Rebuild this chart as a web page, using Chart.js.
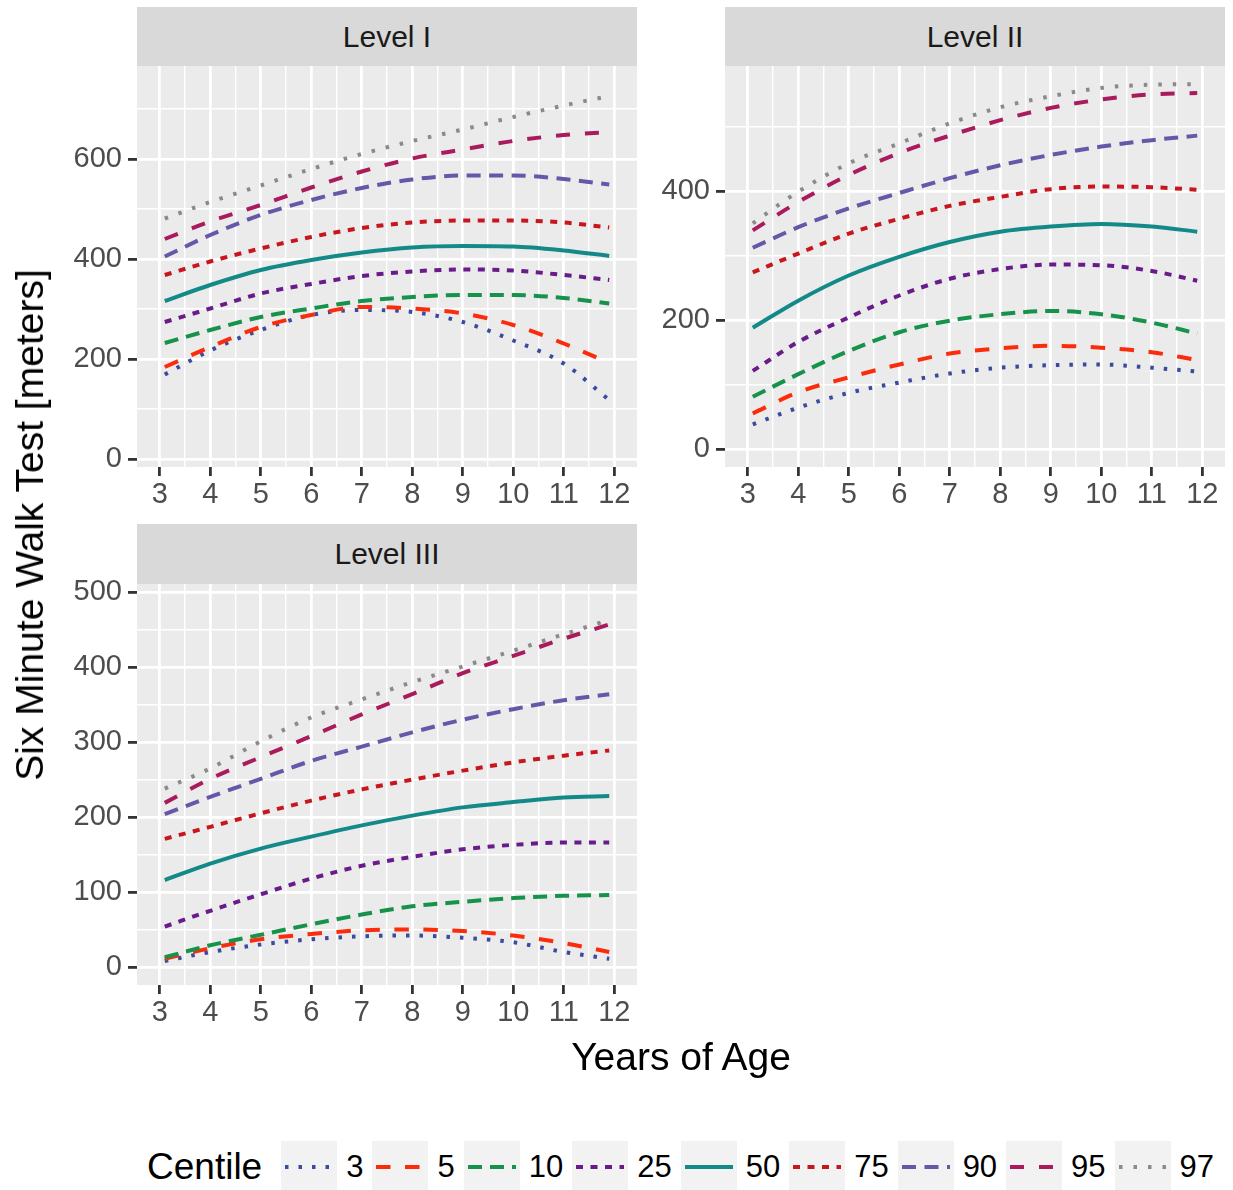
<!DOCTYPE html>
<html>
<head>
<meta charset="utf-8">
<script src="https://cdn.jsdelivr.net/npm/chart.js@4.4.1/dist/chart.umd.min.js"></script>
<style>
  body { margin: 0; background: #fff; width: 1233px; height: 1190px; position: relative; overflow: hidden;
         font-family: "Liberation Sans", Arial, sans-serif; }
  canvas { position: absolute; }
  .strip { position: absolute; background: #d9d9d9; color: #1a1a1a; font-size: 30px;
           display: flex; align-items: center; justify-content: center; }
  .title { position: absolute; font-size: 39px; color: #000; white-space: nowrap; }
  #legend { position: absolute; left: 147px; top: 1141px; height: 52px; display: flex; align-items: center; }
  #legend .lt { font-size: 37px; margin-right: 19px; }
  #legend .key { width: 56px; height: 52px; background: #f2f2f2; display: block; }
  #legend .lab { font-size: 31px; margin: 0 9px 0 9px; }
</style>
</head>
<body>
<div class="strip" style="left:137px;top:7px;width:500px;height:59px">Level I</div>
<div class="strip" style="left:725px;top:7px;width:500px;height:59px">Level II</div>
<div class="strip" style="left:137px;top:524px;width:500px;height:60px">Level III</div>
<canvas id="c1"></canvas>
<canvas id="c2"></canvas>
<canvas id="c3"></canvas>
<div class="title" style="left:30px;top:525px;transform:translate(-50%,-50%) rotate(-90deg)">Six Minute Walk Test [meters]</div>
<div class="title" style="left:681px;top:1057px;transform:translate(-50%,-50%)">Years of Age</div>
<div id="legend"><span class="lt">Centile</span></div>

<script>
const ages = [3.1, 4, 5, 6, 7, 8, 9, 10, 11, 11.9];
const centiles = ['3', '5', '10', '25', '50', '75', '90', '95', '97'];

// one row per centile (3, 5, 10, 25, 50, 75, 90, 95, 97)
const levelI = [
  [169, 217, 258, 288, 298, 294, 274, 237, 191, 118],
  [184, 224, 264, 288, 304, 301, 291, 268, 231, 192],
  [232, 258, 284, 301, 316, 324, 328, 328, 322, 311],
  [274, 301, 331, 350, 366, 375, 379, 377, 368, 358],
  [316, 348, 378, 398, 413, 423, 426, 425, 417, 406],
  [368, 395, 421, 444, 462, 473, 477, 477, 473, 463],
  [405, 448, 488, 518, 542, 559, 567, 567, 560, 549],
  [440, 475, 508, 543, 575, 601, 619, 636, 648, 654],
  [481, 514, 547, 580, 610, 636, 659, 684, 707, 726]
];
const levelII = [
  [38, 64, 87, 103, 117, 126, 130, 131, 126, 120],
  [55, 88, 111, 131, 148, 156, 160, 157, 150, 138],
  [81, 116, 152, 181, 199, 209, 214, 209, 196, 179],
  [121, 166, 204, 238, 264, 279, 286, 285, 276, 261],
  [188, 230, 269, 298, 321, 337, 345, 349, 345, 337],
  [274, 303, 334, 357, 377, 391, 403, 407, 406, 402],
  [312, 344, 373, 397, 420, 440, 456, 469, 479, 486],
  [339, 383, 425, 459, 486, 510, 529, 542, 550, 552],
  [350, 399, 443, 474, 505, 530, 547, 560, 565, 566]
];
const levelIII = [
  [8, 20, 30, 37, 41, 42, 39, 33, 20, 11],
  [11, 25, 37, 44, 49, 50, 48, 42, 32, 20],
  [13, 29, 43, 57, 70, 81, 87, 92, 95, 96],
  [54, 75, 97, 118, 135, 147, 157, 163, 166, 166],
  [116, 138, 158, 174, 189, 202, 213, 220, 226, 228],
  [171, 187, 205, 222, 237, 250, 262, 273, 282, 289],
  [204, 227, 251, 275, 294, 313, 330, 344, 356, 364],
  [219, 251, 280, 308, 337, 364, 392, 415, 438, 457],
  [238, 265, 301, 333, 357, 380, 401, 422, 444, 463]
];

const xMajor = [3, 4, 5, 6, 7, 8, 9, 10, 11, 12];
const xMinor = [3.5, 4.5, 5.5, 6.5, 7.5, 8.5, 9.5, 10.5, 11.5];
const yMajorI = [0, 200, 400, 600];
const yMinorI = [100, 300, 500, 700];
const yMajorII = [0, 200, 400];
const yMinorII = [100, 300, 500];
const yMajorIII = [0, 100, 200, 300, 400, 500];
const yMinorIII = [50, 150, 250, 350, 450];

// styling
const colors = ['#3b4a9e', '#fb2c0c', '#17924a', '#6a1b8a', '#138a88', '#c8161e', '#6757a8', '#a91b5d', '#8a8a8a'];
const dashes = [[3.5, 10], [14.5, 14.5], [14, 8], [7, 7.5], [], [7, 7.5], [14, 8.5], [14, 15], [3.5, 11]];

Chart.defaults.font.family = '"Liberation Sans", Arial, sans-serif';

const panelBg = {
  id: 'panelBg',
  beforeDraw(chart) {
    const { ctx, chartArea: a } = chart;
    ctx.save();
    ctx.fillStyle = '#ebebeb';
    ctx.fillRect(a.left, a.top, a.right - a.left, a.bottom - a.top);
    ctx.restore();
  }
};

const YW = 110, XH = 60, PT = 28, PR = 8;

function makePanel(id, plotLeft, plotTop, plotW, plotH, values, yMin, yMax, yMajor, yMinor) {
  const cv = document.getElementById(id);
  cv.width = YW + plotW + PR;
  cv.height = PT + plotH + XH;
  cv.style.left = (plotLeft - YW) + 'px';
  cv.style.top = (plotTop - PT) + 'px';

  const datasets = values.map((row, i) => ({
    label: centiles[i],
    data: ages.map((a, j) => ({ x: a, y: row[j] })),
    borderColor: colors[i],
    borderDash: dashes[i],
    borderWidth: 4,
    pointRadius: 0,
    cubicInterpolationMode: 'monotone',
    fill: false,
    order: values.length - i
  }));

  const gridOpts = (major) => ({
    color: '#ffffff',
    lineWidth: c => major.includes(c.tick.value) ? 2.8 : 1.4,
    tickColor: c => major.includes(c.tick.value) ? '#333333' : 'rgba(0,0,0,0)',
    tickWidth: 2.8,
    tickLength: 9,
    drawTicks: true
  });

  return new Chart(cv, {
    type: 'line',
    data: { datasets },
    plugins: [panelBg],
    options: {
      responsive: false,
      animation: false,
      layout: { padding: { top: PT, right: PR, left: 0, bottom: 0 } },
      plugins: { legend: { display: false }, tooltip: { enabled: false } },
      scales: {
        x: {
          type: 'linear', min: 2.55, max: 12.45,
          afterBuildTicks: s => { s.ticks = xMajor.concat(xMinor).sort((a, b) => a - b).map(v => ({ value: v })); },
          afterFit: s => { s.height = XH; },
          grid: gridOpts(xMajor),
          border: { display: false },
          ticks: {
            autoSkip: false, maxRotation: 0, padding: 2, color: '#4d4d4d', font: { size: 29 },
            callback: v => xMajor.includes(v) ? String(v) : ''
          }
        },
        y: {
          type: 'linear', min: yMin, max: yMax,
          afterBuildTicks: s => { s.ticks = yMajor.concat(yMinor).sort((a, b) => a - b).map(v => ({ value: v })); },
          afterFit: s => { s.width = YW; },
          grid: gridOpts(yMajor),
          border: { display: false },
          ticks: {
            autoSkip: false, padding: 6, color: '#4d4d4d', font: { size: 29 },
            callback: v => yMajor.includes(v) ? String(v) : ''
          }
        }
      }
    }
  });
}

makePanel('c1', 137, 66, 500, 401, levelI, -16, 786, yMajorI, yMinorI);
makePanel('c2', 725, 66, 500, 401, levelII, -28, 594, yMajorII, yMinorII);
makePanel('c3', 137, 584, 500, 401, levelIII, -24, 511, yMajorIII, yMinorIII);

// legend keys
const legend = document.getElementById('legend');
const NS = 'http://www.w3.org/2000/svg';
centiles.forEach((c, i) => {
  const svg = document.createElementNS(NS, 'svg');
  svg.setAttribute('class', 'key');
  svg.setAttribute('width', 56);
  svg.setAttribute('height', 52);
  const ln = document.createElementNS(NS, 'line');
  ln.setAttribute('x1', 4); ln.setAttribute('x2', 52);
  ln.setAttribute('y1', 26); ln.setAttribute('y2', 26);
  ln.setAttribute('stroke', colors[i]);
  ln.setAttribute('stroke-width', 4);
  if (dashes[i].length) ln.setAttribute('stroke-dasharray', dashes[i].join(' '));
  svg.appendChild(ln);
  legend.appendChild(svg);
  const lab = document.createElement('span');
  lab.className = 'lab';
  lab.textContent = c;
  legend.appendChild(lab);
});
</script>
</body>
</html>
